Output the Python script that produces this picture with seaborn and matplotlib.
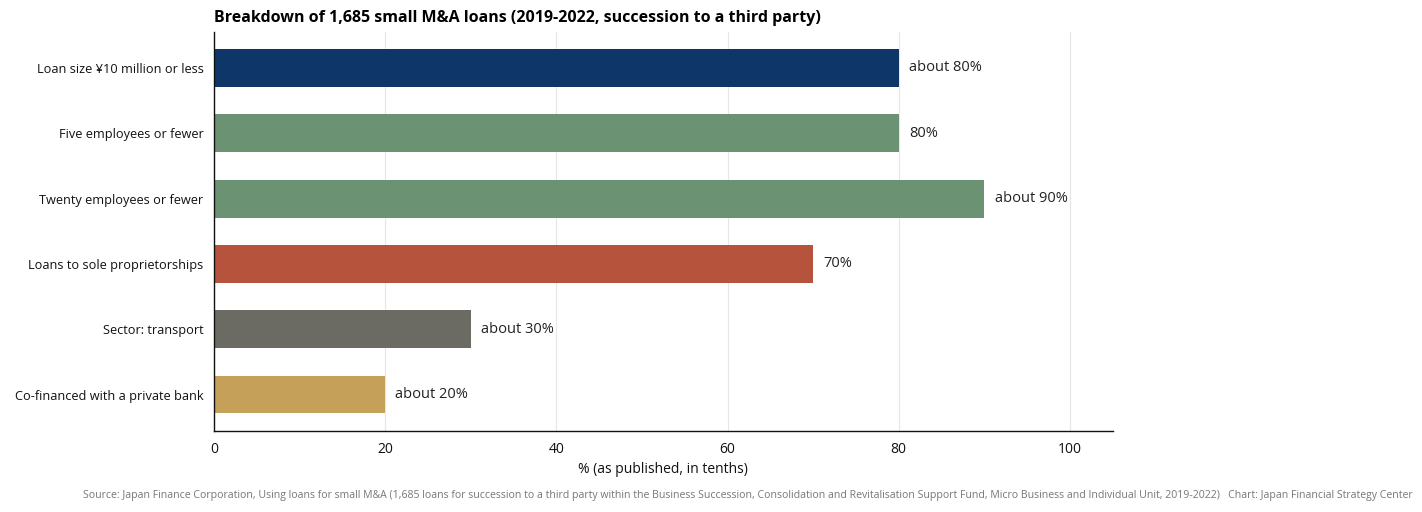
import matplotlib
matplotlib.use("Agg")
import matplotlib.pyplot as plt
import seaborn as sns
import pandas as pd

categories = [
    "Loan size ¥10 million or less",
    "Five employees or fewer",
    "Twenty employees or fewer",
    "Loans to sole proprietorships",
    "Sector: transport",
    "Co-financed with a private bank",
]
values = [80, 80, 90, 70, 30, 20]
labels = ["about 80%", "80%", "about 90%", "70%", "about 30%", "about 20%"]
colors = ["#0f3669", "#6b9272", "#6b9272", "#b5533c", "#6b6b63", "#c4a058"]
x_ticks = [0, 20, 40, 60, 80, 100]

sns.set_style("white")
plt.rcParams["font.family"] = ["Open Sans", "DejaVu Sans"]
plt.rcParams["text.color"] = "#111111"
plt.rcParams["xtick.color"] = "#111111"
plt.rcParams["ytick.color"] = "#111111"
plt.rcParams["axes.labelcolor"] = "#111111"

df = pd.DataFrame({"category": categories, "value": values})

fig = plt.figure(figsize=(14.22, 5.12), dpi=100)
ax = fig.add_axes([0.1505, 0.158, 0.632, 0.7795])

sns.barplot(data=df, x="value", y="category", hue="category", palette=colors,
            order=categories, hue_order=categories, legend=False, width=0.58,
            saturation=1, linewidth=0, edgecolor="none", ax=ax, zorder=2)

for i, (v, lab) in enumerate(zip(values, labels)):
    ax.text(v + 1.2, i, lab, va="center", ha="left", fontsize=10.5, color="#222222")

ax.set_xlim(0, 105)
ax.set_ylim(5.56, -0.55)
ax.set_xticks(x_ticks)
ax.tick_params(axis="x", labelsize=10, length=4)
ax.tick_params(axis="y", labelsize=9.2, length=4)
ax.xaxis.grid(True, color="#e6e6e6", linewidth=0.8, zorder=0)
ax.set_axisbelow(True)
ax.set_xlabel("% (as published, in tenths)", fontsize=10)
ax.set_ylabel("")
for s in ["top", "right"]:
    ax.spines[s].set_visible(False)
for s in ["left", "bottom"]:
    ax.spines[s].set_color("#111111")
    ax.spines[s].set_linewidth(1)
    ax.spines[s].set_zorder(5)

ax.set_title("Breakdown of 1,685 small M&A loans (2019-2022, succession to a third party)",
             loc="left", fontsize=11.5, fontweight="bold", pad=7, color="#000000")

fig.text(0.9937, 0.033,
         "Source: Japan Finance Corporation, Using loans for small M&A (1,685 loans for succession to a third party within the Business Succession, Consolidation and Revitalisation Support Fund, Micro Business and Individual Unit, 2019-2022)   Chart: Japan Financial Strategy Center",
         ha="right", va="center", fontsize=7.55, color="#777777")

fig.savefig("out.png", dpi=100)
